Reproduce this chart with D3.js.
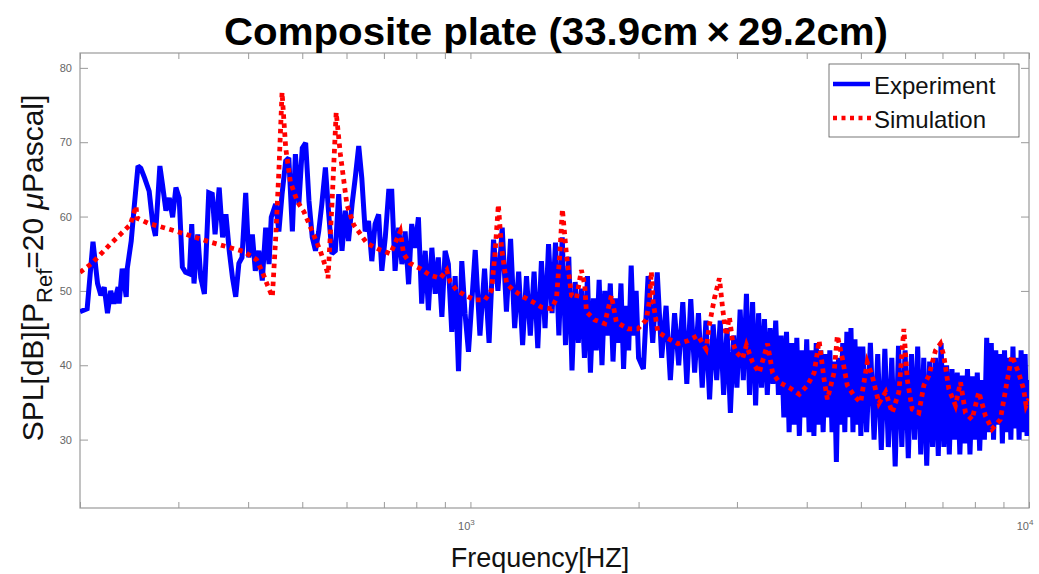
<!DOCTYPE html>
<html>
<head>
<meta charset="utf-8">
<script src="https://cdn.jsdelivr.net/npm/d3@7"></script>
<style>
body { margin: 0; background: #fff; }
svg text { font-family: "Liberation Sans", Arial, sans-serif; }
</style>
</head>
<body>
<svg id="chart" width="1039" height="574"></svg>
<script>
// Experiment, 200 Hz - 1 kHz, read point by point
const expLowFreq = [
    200,206,211,215,218,221,224,227,230,234,
    235,238,242,243,247,250,254,257,261,266,
    270,273,278,281,285,289,293,297,301,305,
    309,314,317,320,325,329,334,340,345,349,
    355,360,365,370,375,380,385,390,396,401,
    407,412,418,424,430,436,440,448,454,460,
    467,473,480,486,493,500,507,514,521,528,
    535,542,550,557,565,573,581,589,597,605,
    614,622,631,639,648,657,666,675,685,694,
    704,714,723,733,744,754,764,775,785,796,
    807,818,830,841,853,865,876,889,901,913,
    926,939,952,965,978,992];
const expLowDb = [
    47.2,47.6,56.6,51,49.4,50.5,47,50,48.3,50.5,
    48.3,53,49.2,53,56.7,61.2,66.8,66.5,65.2,63.4,
    59,57.4,66.8,64.3,60.8,62.5,59.9,63.9,62.5,53.2,
    52.5,52.3,59,51,57.6,51.8,49.6,63.2,63,57.6,
    63.9,57.2,60.3,55.4,51.8,49.2,53.7,54.5,63.2,54.5,
    57.6,52.7,55.4,51.4,58.5,53.6,59.9,61.7,58,63,
    67.5,67.9,58,68.4,61.7,69.2,69.9,62.1,57.2,55.4,
    58,61.7,66.6,60.8,55,55.4,63,55.4,60.8,56.7,
    61.7,65.2,69.5,65.2,58,59.4,54,59,60.3,52.7,
    57.2,63.4,63.4,52.7,58.5,53.6,58,50.9,59,55.8,
    59.9,48.3,55.4,47.4,55.8,49.6,54.5,46.5,55.4,53.6,
    44.5,52,39.2,54,47,41.8];

// Experiment above 1 kHz, on even frequency steps
const expMidDb = [   // 1020 .. 2000, step 20
    55.5,44,53,43,56.9,50,58.5,47.2,57,45,
    52.6,42.7,52,44,52.6,42.3,54,45,56.3,47,
    56.5,44,57.2,42.7,54.6,39.3,51.2,43,50.3,41,
    52,39,49,42,51.5,40,50,44,51,40.5,
    49,43,51,39.5,48,42,53.4,44,50,41];
const expHighDb = [  // 2040 .. 5000, step 40
    39.5,52,43,52.5,41,48,38,47,40,48.5,
    37.5,48.9,39,47,37,46,35.4,45.5,38,46,
    36,45,33.6,44,37,47.5,38,49.6,36,48.5,
    34.6,47,37,46.2,36,45,37.5,46,36,44,
    33,44.5,31,43,32,43.7,30.5,42,33,43.5,
    31,42,30.5,43,32,42,31,41.5,33,42,
    31,40.5,27,41,32,43,31,44.5,33,45,
    31,43.5,32,42.5,30.5];
const expTopDb = [   // 5040 .. 10000, step 80
    42.5,31,43,30,41.5,28.6,42.2,29,41,26.4,
    42.6,29,42,27.5,41.5,30,42.5,28,41,26.5,
    40.5,29,41,27.8,43,29,40,28,39.5,30,
    39,28,38.6,29.5,39.5,28,38.5,30,39,28.5,
    38,30,43.7,31,43,30,42,32,41.5,29.5,
    42,31,41,30,42.5,31.5,41,30,42,31,
    41.5,30.5,38];

// Simulation
const simFreq = [
    200,210,226,246,252,253,265,298,341,393,
    414,424,433,442,448,454,460,467,476,490,
    503,521,539,554,556,565,575,585,601,618,
    653,690,719,749,759,780,813,847,883,907,
    920,945,978,1019,1062,1091,1106,1122,1137,1161,
    1193,1243,1295,1341,1397,1426,1445,1461,1486,1517,
    1548,1580,1602,1613,1669,1739,1788,1825,1914,1994,
    2064,2093,2108,2124,2165,2256,2351,2450,2553,2642,
    2679,2734,2791,2829,2869,2908,2948,2989,3071,3120,
    3200,3289,3404,3474,3572,3722,3878,4013,4125,4210,
    4297,4356,4477,4538,4634,4728,4861,4996,5134,5243,
    5387,5538,5690,5849,5970,6053,6179,6350,6483,6617,
    6803,6943,7038,7186,7385,7541,7696,7907,8131,8356,
    8585,8886,9130,9321,9581,9779,9881,10000];
const simDb = [
    52.5,53.7,56.2,58.9,61.4,59.8,59.1,58,56.6,55.3,
    54.2,52.6,50.8,49.2,57,66.1,76.7,69.2,64.7,62,
    60.7,58,55.3,52.6,51.7,61.6,74,68.4,61.6,58.9,
    56.4,55.5,55,58,55,53.7,53,52.1,51.7,52.8,
    51.2,50.1,49.4,48.8,48.8,50.1,54.8,61.6,55.7,51,
    50.1,49.2,48.5,47.8,47.6,49,54.8,61,54.8,49.4,
    49,52.8,50.8,47.2,46.1,45.6,49.4,45.8,44.9,44.9,
    46.1,48.8,52.6,48.5,44.5,43.6,42.9,43.3,44,42.2,
    45.5,49,51.7,47.6,44,46.5,43.1,41.8,40.9,42.7,
    40.4,39,42.9,39,37.7,37,36.1,37.3,39,43.3,
    38.1,35.4,39,44,40.9,37.3,35.9,35,40.4,38.5,
    34.9,36.4,33.6,36.4,44.9,38.1,34.1,33.6,37.3,38.6,
    42,42.9,41.3,36.8,34.6,37.7,33.6,32.7,36.4,33.2,
    31.4,32.7,37.7,41.3,39,36.8,34.6,35.5];

const yTicks = [30, 40, 50, 60, 70, 80];
const xMajor = [1000, 10000];
const xMinor = [200,300,400,500,600,700,800,900,2000,3000,4000,5000,6000,7000,8000,9000];

const svg = d3.select('#chart');
const plotLeft = 80, plotRight = 1029, plotTop = 53, plotBottom = 508;

const x = d3.scaleLog().domain([200, 10000]).range([plotLeft, plotRight]);
const y = d3.scaleLinear().domain([20.8, 82]).range([plotBottom, plotTop]);

// build series
const expFreq = expLowFreq.concat(d3.range(1020, 2001, 20), d3.range(2040, 5001, 40), d3.range(5040, 10001, 80));
const expDb = expLowDb.concat(expMidDb, expHighDb, expTopDb);
const experiment = expFreq.map((f, i) => [f, expDb[i]]);
const simulation = simFreq.map((f, i) => [f, simDb[i]]);

svg.append('rect').attr('width', 1039).attr('height', 574).attr('fill', '#fff');

svg.append('defs').append('clipPath').attr('id', 'plotclip')
    .append('rect')
    .attr('x', plotLeft).attr('y', plotTop)
    .attr('width', plotRight - plotLeft).attr('height', plotBottom - plotTop);

// axes, ticks pointing inward on all four sides
const axisColor = '#9a9a9a';
const xAll = xMajor.concat(xMinor);

let gx = svg.append('g').attr('transform', 'translate(0,' + plotBottom + ')')
    .call(d3.axisBottom(x).tickValues(xAll).tickSize(-6).tickFormat(''));
let gxTop = svg.append('g').attr('transform', 'translate(0,' + plotTop + ')')
    .call(d3.axisTop(x).tickValues(xAll).tickSize(-6).tickFormat(''));
let gy = svg.append('g').attr('transform', 'translate(' + plotLeft + ',0)')
    .call(d3.axisLeft(y).tickValues(yTicks).tickSize(-8).tickPadding(8).tickFormat(d3.format('d')));
let gyRight = svg.append('g').attr('transform', 'translate(' + plotRight + ',0)')
    .call(d3.axisRight(y).tickValues(yTicks).tickSize(-8).tickFormat(''));

[gx, gxTop, gy, gyRight].forEach(g => {
    g.select('.domain').remove();
    g.selectAll('line').attr('stroke', axisColor);
});
gy.selectAll('text')
    .attr('fill', '#666')
    .attr('font-size', '11px')
    .attr('font-family', '"Liberation Sans", Arial, sans-serif');

svg.append('rect')
    .attr('x', plotLeft).attr('y', plotTop)
    .attr('width', plotRight - plotLeft).attr('height', plotBottom - plotTop)
    .attr('fill', 'none')
    .attr('stroke', axisColor)
    .attr('stroke-width', 1.2);

// x tick labels as 10^n
xMajor.forEach(v => {
    let t = svg.append('text')
        .attr('x', x(v) - 4)
        .attr('y', plotBottom + 22)
        .attr('text-anchor', 'middle')
        .attr('fill', '#666')
        .attr('font-size', '11px');
    t.append('tspan').text('10');
    t.append('tspan').attr('dy', -5).attr('font-size', '8px').text(Math.round(Math.log10(v)));
});

// data lines
const line = d3.line().x(d => x(d[0])).y(d => y(d[1]));
const plot = svg.append('g').attr('clip-path', 'url(#plotclip)');

plot.append('path')
    .datum(experiment)
    .attr('d', line)
    .attr('fill', 'none')
    .attr('stroke', '#0000ff')
    .attr('stroke-width', 5)
    .attr('stroke-linejoin', 'miter')
    .attr('stroke-miterlimit', 2);

plot.append('path')
    .datum(simulation)
    .attr('d', line)
    .attr('fill', 'none')
    .attr('stroke', '#ff0000')
    .attr('stroke-width', 4.8)
    .attr('stroke-dasharray', '4.5,4.5');

// legend
let legend = svg.append('g');
legend.append('rect')
    .attr('x', 829).attr('y', 64)
    .attr('width', 190).attr('height', 73)
    .attr('fill', '#fff')
    .attr('stroke', '#555')
    .attr('stroke-width', 0.8);
legend.append('line')
    .attr('x1', 833).attr('x2', 870).attr('y1', 84).attr('y2', 84)
    .attr('stroke', '#0000ff').attr('stroke-width', 4.5);
legend.append('line')
    .attr('x1', 833).attr('x2', 872).attr('y1', 118).attr('y2', 118)
    .attr('stroke', '#ff0000').attr('stroke-width', 4.5)
    .attr('stroke-dasharray', '4,4.5');
legend.append('text').attr('x', 874).attr('y', 94)
    .attr('font-size', '24px').attr('fill', '#111').text('Experiment');
legend.append('text').attr('x', 874).attr('y', 128)
    .attr('font-size', '24px').attr('fill', '#111').text('Simulation');

// title
svg.append('text')
    .attr('x', 556)
    .attr('y', 45)
    .attr('text-anchor', 'middle')
    .attr('font-size', '38px')
    .attr('font-weight', 'bold')
    .attr('fill', '#000')
    .attr('textLength', 664)
    .attr('lengthAdjust', 'spacingAndGlyphs')
    .text('Composite plate (33.9cm\u2009\u00d7\u200929.2cm)');

// axis labels
svg.append('text')
    .attr('x', 540)
    .attr('y', 567)
    .attr('text-anchor', 'middle')
    .attr('font-size', '27px')
    .attr('fill', '#111')
    .text('Frequency[HZ]');

let ylab = svg.append('text')
    .attr('transform', 'translate(43,268) rotate(-90)')
    .attr('text-anchor', 'middle')
    .attr('font-size', '30px')
    .attr('fill', '#111');
ylab.append('tspan').text('SPL[dB][P');
ylab.append('tspan').attr('dy', 9).attr('font-size', '22px').text('Ref');
ylab.append('tspan').attr('dy', -9).text('=20 ');
ylab.append('tspan').attr('font-style', 'italic').text('\u03bc');
ylab.append('tspan').text('Pascal]');
</script>
</body>
</html>
